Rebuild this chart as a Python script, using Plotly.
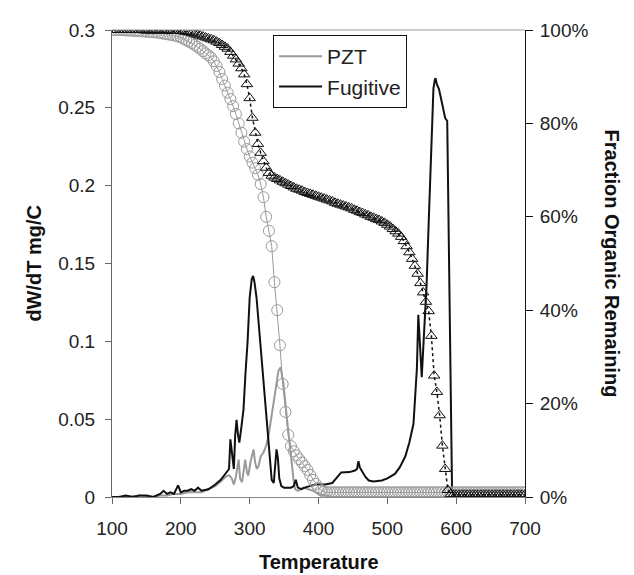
import plotly.graph_objects as go

# ---- dW/dT curves (left axis, mg/C) ----
pzt_T = [100, 120, 140, 160, 170, 180, 190, 200, 210, 220, 230, 240, 250, 258, 265, 270, 274, 277, 280,
         284, 286, 289, 291, 293.5, 296, 298, 301, 305.6, 308, 310.4, 313, 316, 320, 324, 327.3, 331,
         334.5, 338, 341.8, 345, 349, 353.8, 357, 361, 364, 366, 370, 378, 385, 392, 400, 408, 420,
         450, 500, 550, 600, 650, 700]
pzt_dw = [0.000, 0.000, 0.001, 0.000, 0.001, 0.001, 0.002, 0.002, 0.003, 0.003, 0.003, 0.005, 0.007,
          0.010, 0.013, 0.014, 0.012, 0.008, 0.013, 0.024, 0.012, 0.0095, 0.015, 0.024, 0.016, 0.0137,
          0.022, 0.0306, 0.022, 0.018, 0.020, 0.026, 0.0285, 0.033, 0.039, 0.050, 0.062, 0.072, 0.081,
          0.0833, 0.073, 0.0517, 0.038, 0.020, 0.010, 0.005, 0.004, 0.006, 0.005, 0.004, 0.002, 0.001,
          0.000, 0.000, 0.000, 0.000, 0.000, 0.000, 0.000]

fug_T = [100, 110, 120, 130, 140, 150, 160, 165, 170, 175, 180, 185, 190, 196, 200, 205, 210, 215, 220,
         225, 230, 240, 250, 258, 265, 270, 272, 275, 277, 279, 281, 283, 285, 288, 291, 294, 297, 300,
         303, 305, 307, 310, 313, 316, 320, 324, 327, 330, 332, 335, 337, 339, 341, 343, 346, 350, 355,
         360, 364, 367, 370, 375, 380, 388, 395, 402, 410, 420, 433, 445, 453, 456, 458, 460, 463, 468,
         473, 480, 492, 500, 511, 518, 526, 532, 538, 541, 543, 545, 547, 549, 550, 552, 554, 557, 560,
         562, 564, 567, 569, 570, 572, 575, 578, 581, 584, 587, 589.5, 591, 592.4, 594, 597, 620, 650,
         680, 700]
fug_dw = [0.000, 0.000, 0.001, 0.000, 0.001, 0.001, 0.000, 0.001, 0.002, 0.004, 0.002, 0.003, 0.002,
          0.0075, 0.003, 0.004, 0.004, 0.005, 0.004, 0.006, 0.004, 0.005, 0.008, 0.011, 0.015, 0.018,
          0.037, 0.025, 0.018, 0.040, 0.0496, 0.040, 0.035, 0.045, 0.056, 0.080, 0.100, 0.128, 0.140,
          0.142, 0.138, 0.128, 0.112, 0.095, 0.073, 0.052, 0.037, 0.020, 0.011, 0.009, 0.020, 0.0306,
          0.025, 0.012, 0.007, 0.006, 0.006, 0.006, 0.007, 0.011, 0.006, 0.005, 0.006, 0.007, 0.008,
          0.008, 0.008, 0.009, 0.0158, 0.016, 0.017, 0.018, 0.023, 0.019, 0.017, 0.013, 0.0106, 0.010,
          0.0106, 0.012, 0.0148, 0.019, 0.026, 0.035, 0.047, 0.065, 0.083, 0.117, 0.100, 0.085, 0.077,
          0.094, 0.110, 0.136, 0.175, 0.199, 0.230, 0.2625, 0.268, 0.269, 0.265, 0.262, 0.256, 0.250,
          0.2435, 0.2415, 0.157, 0.100, 0.052, 0.005, 0.000, 0.000, 0.000, 0.000, 0.000]

# ---- Fraction organic remaining (right axis, %) ----
frac_T = [100, 104, 108, 112, 116, 120, 124, 128, 132, 136, 140, 144, 148, 152, 156, 160, 164, 168, 172, 176,
          180, 184, 188, 192, 196, 200, 204, 208, 212, 216, 220, 224, 228, 232, 236, 240, 244, 248, 252, 256,
          260, 264, 268, 272, 276, 280, 284, 288, 292, 296, 300, 304, 308, 312, 316, 320, 324, 328, 332, 336,
          340, 344, 348, 352, 356, 360, 364, 368, 372, 376, 380, 384, 388, 392, 396, 400, 404, 408, 412, 416,
          420, 424, 428, 432, 436, 440, 444, 448, 452, 456, 460, 464, 468, 472, 476, 480, 484, 488, 492, 496,
          500, 504, 508, 512, 516, 520, 524, 528, 532, 536, 540, 544, 548, 552, 556, 560, 564, 568, 572, 576,
          580, 584, 588, 592, 596, 600, 604, 608, 612, 616, 620, 624, 628, 632, 636, 640, 644, 648, 652, 656,
          660, 664, 668, 672, 676, 680, 684, 688, 692, 696, 700]

pzt_frac = [100.0, 100.0, 100.0, 100.0, 100.0, 99.9, 99.9, 99.9, 99.8, 99.8,
            99.8, 99.7, 99.7, 99.6, 99.6, 99.5, 99.5, 99.4, 99.3, 99.2,
            99.1, 99.0, 98.9, 98.8, 98.6, 98.4, 98.1, 97.8, 97.5, 97.2,
            96.8, 96.4, 96.0, 95.5, 95.0, 94.6, 94.1, 93.3, 92.3, 91.0,
            89.5, 88.1, 86.6, 85.2, 83.7, 82.0, 80.0, 78.0, 76.1, 74.5,
            72.9, 71.6, 70.4, 69.0, 67.0, 64.2, 60.0, 57.0, 53.7, 46.0,
            40.0, 32.5, 24.2, 18.2, 13.3, 10.9, 9.8, 8.9, 8.1, 7.4,
            6.6, 5.8, 4.7, 3.7, 2.8, 2.0, 1.4, 1.1, 1.0, 1.0,
            1.0, 1.0, 1.0, 1.0, 1.0, 1.0, 1.0, 1.0, 1.0, 1.0,
            1.0, 1.0, 1.0, 1.0, 1.0, 1.0, 1.0, 1.0, 1.0, 1.0,
            1.0, 1.0, 1.0, 1.0, 1.0, 1.0, 1.0, 1.0, 1.0, 1.0,
            1.0, 1.0, 1.0, 1.0, 1.0, 1.0, 1.0, 1.0, 1.0, 1.0,
            1.0, 1.0, 1.0, 1.0, 1.0, 1.0, 1.0, 1.0, 1.0, 1.0,
            1.0, 1.0, 1.0, 1.0, 1.0, 1.0, 1.0, 1.0, 1.0, 1.0,
            1.0, 1.0, 1.0, 1.0, 1.0, 1.0, 1.0, 1.0, 1.0, 1.0,
            1.0]

fug_frac = [100.0, 100.0, 100.0, 100.0, 100.0, 100.0, 100.0, 100.0, 100.0, 100.0,
            100.0, 100.0, 99.9, 99.9, 99.9, 99.9, 99.9, 99.9, 99.9, 99.9,
            99.9, 99.9, 99.8, 99.8, 99.8, 99.8, 99.7, 99.6, 99.5, 99.4,
            99.2, 99.0, 98.8, 98.6, 98.4, 98.2, 98.0, 97.8, 97.5, 97.2,
            96.8, 96.4, 96.0, 95.3, 94.5, 93.7, 92.8, 91.8, 90.5, 88.4,
            85.4, 81.2, 78.0, 75.6, 73.7, 71.9, 70.5, 69.4, 68.8, 68.4,
            68.1, 67.8, 67.5, 67.2, 66.9, 66.6, 66.3, 66.0, 65.8, 65.6,
            65.3, 65.1, 64.9, 64.7, 64.5, 64.3, 64.1, 63.9, 63.7, 63.5,
            63.3, 63.0, 62.8, 62.6, 62.4, 62.2, 62.0, 61.8, 61.5, 61.3,
            61.0, 60.8, 60.5, 60.3, 60.0, 59.8, 59.5, 59.3, 59.0, 58.7,
            58.3, 57.9, 57.4, 56.9, 56.4, 55.7, 54.8, 53.7, 52.4, 51.0,
            49.5, 47.8, 45.8, 43.8, 41.8, 39.8, 34.5, 26.0, 22.5, 17.5,
            11.0, 6.0, 1.5, 0.6, 0.5, 0.5, 0.5, 0.5, 0.5, 0.5,
            0.5, 0.5, 0.5, 0.5, 0.5, 0.5, 0.5, 0.5, 0.5, 0.5,
            0.5, 0.5, 0.5, 0.5, 0.5, 0.5, 0.5, 0.5, 0.5, 0.5,
            0.5]

x_ticks = [100, 200, 300, 400, 500, 600, 700]
y_ticks = [0, 0.05, 0.1, 0.15, 0.2, 0.25, 0.3]
y_tick_labels = ["0", "0.05", "0.1", "0.15", "0.2", "0.25", "0.3"]
y2_ticks = [0, 20, 40, 60, 80, 100]
y2_tick_labels = ["0%", "20%", "40%", "60%", "80%", "100%"]

FONT = "Liberation Sans, Arial, sans-serif"
GRAY = "#9a9a9a"
BLACK = "#111111"

fig = go.Figure()

fig.add_trace(go.Scatter(x=pzt_T, y=pzt_dw, mode="lines", name="PZT",
                         line=dict(color=GRAY, width=2)))
fig.add_trace(go.Scatter(x=fug_T, y=fug_dw, mode="lines", name="Fugitive",
                         line=dict(color=BLACK, width=2)))

fig.add_trace(go.Scatter(x=frac_T, y=pzt_frac, yaxis="y2", mode="lines+markers", showlegend=False,
                         line=dict(color=GRAY, width=1),
                         marker=dict(symbol="circle-open", size=11, color=GRAY, line=dict(width=1))))
fig.add_trace(go.Scatter(x=frac_T, y=fug_frac, yaxis="y2", mode="lines+markers", showlegend=False,
                         line=dict(color=BLACK, width=1.5, dash="dot"),
                         marker=dict(symbol="triangle-up-open", size=10, color=BLACK, line=dict(width=1))))

fig.update_layout(
    width=626, height=567,
    margin=dict(l=104, r=109, t=14, b=78),
    paper_bgcolor="white", plot_bgcolor="white",
    font=dict(family=FONT, size=19, color="#222222"),
    xaxis=dict(range=[100, 700], tickvals=x_ticks, ticks="outside", ticklen=6, tickcolor="#666666",
               showline=True, linecolor="#888888", linewidth=1, showgrid=False, zeroline=False,
               tickfont=dict(size=19), ticklabelstandoff=8),
    yaxis=dict(range=[0, 0.3], tickvals=y_ticks, ticktext=y_tick_labels, ticks="outside", ticklen=6,
               tickcolor="#666666", showline=True, linecolor="#666666", linewidth=1, showgrid=False,
               zeroline=False, tickfont=dict(size=19), ticklabelstandoff=6),
    yaxis2=dict(range=[0, 100], overlaying="y", side="right", tickvals=y2_ticks, ticktext=y2_tick_labels,
                ticks="outside", ticklen=7, tickcolor=BLACK, showline=True, linecolor=BLACK, linewidth=1,
                showgrid=False, zeroline=False, tickfont=dict(size=19), ticklabelstandoff=3),
    legend=dict(x=0.39, y=0.989, xanchor="left", yanchor="top", bgcolor="white",
                bordercolor=BLACK, borderwidth=1, font=dict(size=21, color="#222222"),
                tracegroupgap=0, itemwidth=43),
    shapes=[dict(type="line", xref="paper", yref="paper", x0=0, x1=1, y0=1, y1=1,
                 line=dict(color="#999999", width=1))],
    annotations=[
        dict(text="<b>Temperature</b>", xref="paper", yref="paper", x=0.5, y=-0.139,
             xanchor="center", yanchor="middle", showarrow=False, font=dict(size=20, color="#111111")),
        dict(text="<b>dW/dT mg/C</b>", xref="paper", yref="paper", x=-0.191, y=0.5,
             xanchor="center", yanchor="middle", textangle=-90, showarrow=False,
             font=dict(size=20, color="#111111")),
        dict(text="<b>Fraction Organic Remaining</b>", xref="paper", yref="paper", x=1.213, y=0.5,
             xanchor="center", yanchor="middle", textangle=90, showarrow=False,
             font=dict(size=20, color="#111111")),
    ],
)

fig.write_html("out.html")
